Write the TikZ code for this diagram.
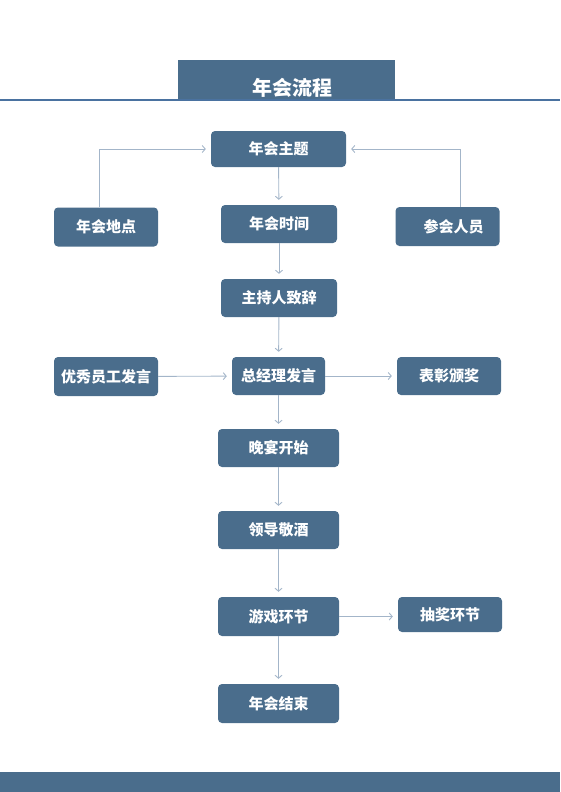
\documentclass[tikz,border=0pt]{standalone}
\usepackage{fontspec}
\newfontfamily\cjk{Noto Sans CJK SC}
\usetikzlibrary{arrows.meta}
\definecolor{boxblue}{HTML}{4A6D8C}
\definecolor{lineblue}{HTML}{4A72A0}
\definecolor{arrowgray}{HTML}{A3B5C9}
\tikzset{
  box/.style={rectangle,rounded corners=4pt,fill=boxblue,text=white,inner sep=0pt,
              font=\cjk\bfseries\fontsize{15}{18}\selectfont},
  flow/.style={draw=arrowgray,line width=0.9pt,shorten >=5pt}
}

\begin{document}
\begin{tikzpicture}[x=1pt,y=1pt]
\useasboundingbox (0,0) rectangle (560,-792);

% Kopf und Fuss
\fill[boxblue] (178,-60) rectangle (395,-99);
\draw[lineblue,line width=2pt] (0,-100) -- (560,-100);
\node [text=white,font=\cjk\bfseries\fontsize{20}{24}\selectfont] (title) at (292,-88) {年会流程};
\fill[boxblue] (0,-772) rectangle (560,-792);

\begin{scope}[every node/.style={box,minimum height=38pt}]
    \node [minimum width=135pt,minimum height=36pt] (theme) at (278.5,-149) {年会主题};
    \node [minimum width=104pt,minimum height=39pt] (place) at (106,-227) {年会地点};
    \node [minimum width=116pt] (time) at (279,-224) {年会时间};
    \node [minimum width=104pt,minimum height=39pt] (guests) at (447.5,-226.5) {\hspace{12pt}参会人员};
    \node [minimum width=116pt] (host) at (279,-298) {主持人致辞};
    \node [minimum width=104pt,minimum height=39pt] (staff) at (106,-376.5) {优秀员工发言};
    \node [minimum width=93pt] (boss) at (278.5,-376) {总经理发言};
    \node [minimum width=104pt] (award) at (449,-376) {表彰颁奖};
    \node [minimum width=121pt] (dinner) at (278.5,-448) {晚宴开始};
    \node [minimum width=121pt] (toast) at (278.5,-530) {领导敬酒};
    \node [minimum width=121pt,minimum height=39pt] (game) at (278.5,-616.5) {游戏环节};
    \node [minimum width=104pt,minimum height=35pt] (lottery) at (450,-614.5) {抽奖环节};
    \node [minimum width=121pt,minimum height=39pt] (end) at (278.5,-703.5) {年会结束};
\end{scope}

\begin{scope}[>={Straight Barb[length=3pt,width=7pt]},
              every edge/.style={flow}]
    \draw [flow,->] ([xshift=-7pt]place.north) |- (theme.west);
    \draw [flow,->] ([xshift=13pt]guests.north) |- (theme.east);
    \path [->] (theme) edge (time);
    \path [->] (time) edge (host);
    \path [->] (host) edge (boss);
    \path [->] (staff) edge (boss);
    \path [->] (boss) edge (award);
    \path [->] (boss) edge (dinner);
    \path [->] (dinner) edge (toast);
    \path [->] (toast) edge (game);
    \path [->] (game.east) edge (game.east -| lottery.west);
    \path [->] (game) edge (end);
\end{scope}
\end{tikzpicture}
\end{document}
